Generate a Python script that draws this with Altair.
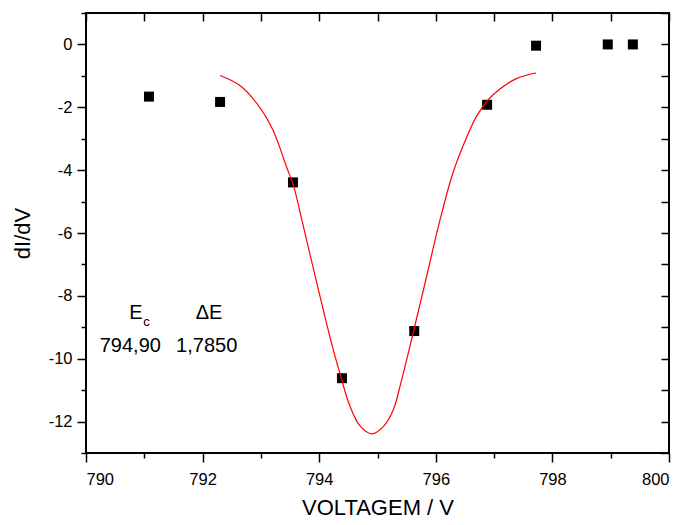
import altair as alt
import pandas as pd

# measured points
volt = [791.08, 792.30, 793.55, 794.39, 795.63, 796.88, 797.72, 798.95, 799.38]
didv = [-1.66, -1.83, -4.39, -10.62, -9.12, -1.92, -0.04, 0.00, 0.00]

# fitted curve
fit_x = [792.30, 792.64, 792.98, 793.21, 793.44, 793.56, 793.73, 793.96, 794.19,
         794.36, 794.53, 794.70, 794.90, 795.10, 795.27, 795.39, 795.61, 795.84,
         796.07, 796.30, 796.53, 796.70, 796.90, 797.10, 797.39, 797.72]
fit_y = [-0.99, -1.31, -2.00, -2.74, -3.90, -4.50, -5.80, -7.60, -9.35,
         -10.50, -11.52, -12.14, -12.39, -12.16, -11.63, -10.85, -9.19, -7.40,
         -5.60, -4.05, -2.95, -2.28, -1.76, -1.42, -1.08, -0.91]

# annotation texts
ann_text = ["E", "c", "\u0394E", "794,90", "1,7850"]
ann_x = [790.74, 790.98, 792.11, 790.76, 792.07]
ann_y = [-8.74, -8.97, -8.74, -9.79, -9.79]
ann_size = [20, 13, 20, 20, 20]
ann_align = ["left", "left", "center", "center", "center"]

x_ticks = list(range(790, 801))
y_ticks = list(range(-13, 2))

FONT = "Liberation Sans"

pts = pd.DataFrame({"x": volt, "y": didv})
fit = pd.DataFrame({"x": fit_x, "y": fit_y})
ann = pd.DataFrame({"t": ann_text, "x": ann_x, "y": ann_y})

xs = alt.Scale(domain=[790, 800], nice=False, zero=False)
ys = alt.Scale(domain=[-13, 1], nice=False, zero=False)

even = "datum.value % 2 === 0"
lab = f"{even} ? ('' + datum.value) : ''"

x_axis = alt.Axis(
    values=x_ticks, title="VOLTAGEM / V", labelExpr=lab,
    tickSize={"condition": {"test": even, "value": 9}, "value": 5},
    grid=False, labelFontSize=16.5, titleFontSize=22, titleFontWeight="normal",
    labelPadding=9, titlePadding=10, tickWidth=1.5, domain=False,
    labelFont=FONT, titleFont=FONT, tickColor="black", labelColor="black", titleColor="black")
y_axis = alt.Axis(
    values=y_ticks, title="dI/dV", labelExpr=lab,
    tickSize={"condition": {"test": even, "value": 9}, "value": 5},
    grid=False, labelFontSize=16.5, titleFontSize=22, titleFontWeight="normal",
    labelPadding=5, titlePadding=14, tickWidth=1.5, domain=False,
    labelFont=FONT, titleFont=FONT, tickColor="black", labelColor="black", titleColor="black")

x_top = alt.Axis(orient="top", values=x_ticks, labels=False, title=None, tickSize=8,
                 offset=-8, domain=False, grid=False, tickWidth=1.5, tickColor="black")
y_right = alt.Axis(orient="right", values=y_ticks, labels=False, title=None, tickSize=8,
                   offset=-8, domain=False, grid=False, tickWidth=1.5, tickColor="black")

points = alt.Chart(pts).mark_square(size=100, color="black", opacity=1).encode(
    x=alt.X("x:Q", scale=xs, axis=x_axis),
    y=alt.Y("y:Q", scale=ys, axis=y_axis),
)

line = alt.Chart(fit).mark_line(color="red", strokeWidth=1.2, interpolate="catmull-rom").encode(
    x=alt.X("x:Q", scale=xs, axis=x_top),
    y=alt.Y("y:Q", scale=ys, axis=y_right),
)

texts = []
for i in range(len(ann_text)):
    texts.append(
        alt.Chart(ann.iloc[[i]]).mark_text(
            font=FONT, fontSize=ann_size[i], align=ann_align[i], baseline="alphabetic", color="black"
        ).encode(
            x=alt.X("x:Q", scale=xs, axis=None),
            y=alt.Y("y:Q", scale=ys, axis=None),
            text="t:N",
        )
    )

chart = alt.layer(points, line, *texts).resolve_axis(
    x="independent", y="independent"
).properties(
    width=583, height=440,
    autosize=alt.AutoSizeParams(type="none"),
    padding={"left": 78, "top": 5, "right": 10, "bottom": 67},
    background="white",
).configure_view(stroke="black", strokeWidth=2)

chart.save("out.html", embed_options={"renderer": "svg", "actions": False})
